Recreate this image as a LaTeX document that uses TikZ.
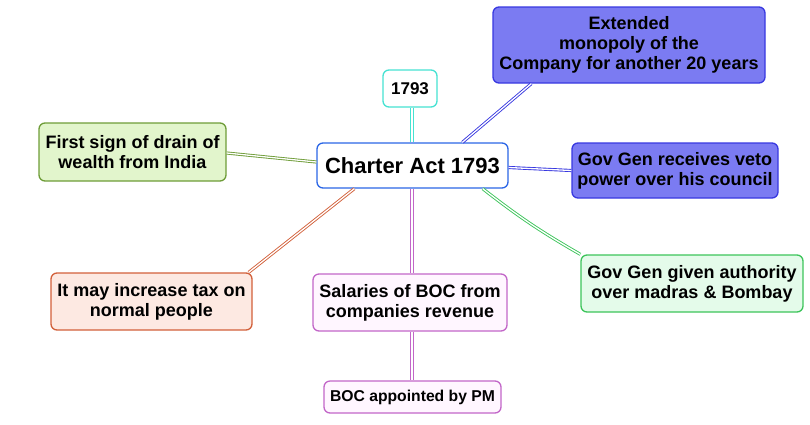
\documentclass[tikz,border=0pt]{standalone}
\usepackage{fontspec}
\setmainfont{Liberation Sans}
\usetikzlibrary{calc}
\definecolor{cblue}{HTML}{2B66E6}
\definecolor{bfill}{HTML}{7B7BF2}
\definecolor{bdraw}{HTML}{3838E0}
\definecolor{gfill}{HTML}{E2F5CC}
\definecolor{gdraw}{HTML}{6E9C38}
\definecolor{tfill}{HTML}{FDE9E2}
\definecolor{tdraw}{HTML}{D2603A}
\definecolor{pfill}{HTML}{FFF6FF}
\definecolor{pdraw}{HTML}{C266C8}
\definecolor{afill}{HTML}{E4FBEA}
\definecolor{adraw}{HTML}{3CC45A}
\definecolor{ydraw}{HTML}{46E2D2}
\tikzset{
  box/.style={rectangle, rounded corners=6pt, line width=1.3pt, align=center,
    inner sep=0pt, font=\bfseries\fontsize{18}{20}\selectfont},
  link/.style={double=white, double distance=1.3pt, line width=0.9pt},
}
\begin{document}
\begin{tikzpicture}[x=1pt,y=-1pt]
\useasboundingbox (0,0) rectangle (810,424);
\node[box, draw=cblue, fill=white, minimum width=191pt, minimum height=45pt,
  font=\bfseries\fontsize{22}{24}\selectfont] (c) at (412.5,165.5) {Charter Act 1793};
\node[box, draw=ydraw, fill=white, minimum width=54pt, minimum height=37pt,
  font=\bfseries\fontsize{17}{19}\selectfont] (yr) at (410,88.5) {1793};
\node[box, draw=bdraw, fill=bfill, minimum width=272pt, minimum height=76pt] (e) at (629,45)
  {Extended\\monopoly of the\\Company for another 20 years};
\node[box, draw=bdraw, fill=bfill, minimum width=206pt, minimum height=55pt] (v) at (675,170.5)
  {Gov Gen receives veto\\power over his council};
\node[box, draw=gdraw, fill=gfill, minimum width=187pt, minimum height=58pt] (f) at (132.5,152)
  {First sign of drain of\\wealth from India};
\node[box, draw=tdraw, fill=tfill, minimum width=201pt, minimum height=57pt] (t) at (151.5,301.5)
  {It may increase tax on\\normal people};
\node[box, draw=pdraw, fill=pfill, minimum width=194pt, minimum height=57pt] (s) at (410,302.5)
  {Salaries of BOC from\\companies revenue};
\node[box, draw=pdraw, fill=pfill, minimum width=177pt, minimum height=32pt,
  font=\bfseries\fontsize{15.7}{18}\selectfont] (b) at (412.5,397) {BOC appointed by PM};
\node[box, draw=adraw, fill=afill, minimum width=222pt, minimum height=57pt] (a) at (692,283.5)
  {Gov Gen given authority\\over madras \& Bombay};
\draw[link, draw=ydraw] ($(yr.south)+(2,0)$) -- ($(c.north)+(-0.5,0)$);
\draw[link, draw=bdraw] ($(e.south west)+(39,0)$) -- ($(c.north west)+(146,0)$);
\draw[link, draw=bdraw] ($(c.east)+(0,2)$) -- (v.west);
\draw[link, draw=gdraw] ($(f.east)+(0,1)$) -- ($(c.west)+(0,-3.5)$);
\draw[link, draw=tdraw] ($(t.north east)+(-4,0)$) -- ($(c.south west)+(38,0)$);
\draw[link, draw=pdraw] ($(c.south)+(-0.5,0)$) -- ($(s.north)+(2,0)$);
\draw[link, draw=pdraw] ($(s.south)+(2,0)$) -- ($(b.north)+(-0.5,0)$);
\draw[link, draw=adraw] ($(c.south east)+(-26,0)$) to[bend right=4] (a.north west);
\end{tikzpicture}
\end{document}
